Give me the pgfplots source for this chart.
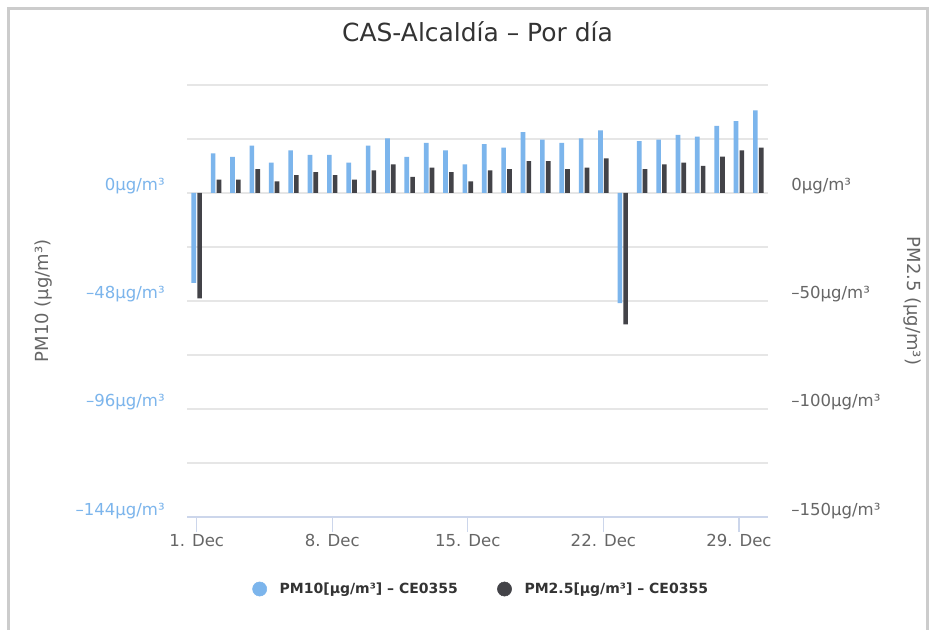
\documentclass[border=0pt]{standalone}
\usepackage{fontspec}
\setmainfont{DejaVu Sans}
\usepackage{pgfplots}
\usepackage{pgfplotstable}
\pgfplotsset{compat=1.18}

\definecolor{pm10}{HTML}{7CB5EC}
\definecolor{pm25}{HTML}{434348}
\definecolor{gridc}{HTML}{E6E6E6}
\definecolor{axisc}{HTML}{CCD6EB}
\definecolor{txt}{HTML}{666666}
\definecolor{ttl}{HTML}{333333}
\definecolor{marco}{HTML}{CCCCCC}

% daily values, December
\pgfplotstableread{
day pm10 pm25
1  -40.0 -48.8
2  17.6  6.2
3  16.1  6.2
4  21.0  11.0
5  13.5  5.4
6  18.9  8.3
7  16.9  9.7
8  16.9  8.3
9  13.5  6.2
10 21.0  10.5
11 24.3  13.2
12 16.1  7.5
13 22.3  11.8
14 18.9  9.7
15 12.7  5.4
16 21.7  10.5
17 20.2  11.0
18 27.1  14.7
19 23.7  14.7
20 22.3  11.0
21 24.3  11.8
22 27.8  16.0
23 -49.0 -60.8
24 23.0  11.0
25 23.7  13.2
26 25.8  14.1
27 25.0  12.5
28 29.8  16.8
29 31.9  19.7
30 36.7  21.0
}\datos

\newcommand{\tickfont}{\fontsize{12.4}{15}\selectfont}
\newcommand{\labfont}{\fontsize{13.5}{16}\selectfont}

\begin{document}
\begin{tikzpicture}
\useasboundingbox (0,0) rectangle (701.25pt,-472.5pt);
\fill[white] (0,0) rectangle (701.25pt,-472.5pt);
\draw[marco, line width=2.25pt] (6.4pt,-472.5pt) -- (6.4pt,-6.75pt) -- (695.25pt,-6.75pt) -- (695.25pt,-472.5pt);

% left axis: PM10
\begin{axis}[
    scale only axis, width=435.75pt, height=324pt,
    at={(140.25pt,-387.75pt)}, anchor=south west,
    xmin=0.5, xmax=30.5, ymin=-144, ymax=48,
    ybar, bar width=3.48pt,
    axis x line*=bottom, axis y line*=left,
    y axis line style={draw=none},
    x axis line style={axisc, line width=1pt},
    tick align=outside, major tick length=11.25pt,
    xtick={1,8,15,22,29},
    xticklabels={1. Dec,8. Dec,15. Dec,22. Dec,29. Dec},
    xtick style={axisc, line width=1pt},
    xticklabel style={anchor=base, inner sep=0pt, yshift=-10.5pt, txt, font=\tickfont},
    ytick={-144,-120,...,48},
    yticklabels={–144μg/m³,,–96μg/m³,,–48μg/m³,,0μg/m³,,},
    ytick style={draw=none},
    yticklabel style={anchor=base east, inner sep=0pt, xshift=-5.25pt, yshift=1.5pt, pm10, font=\tickfont},
    ymajorgrids, grid style={gridc, line width=1pt},
    ylabel={PM10 (μg/m³)},
    ylabel style={at={(axis description cs:-0.2470,0.5)}, anchor=center, txt, font=\labfont},
    title={CAS-Alcaldía – Por día},
    title style={at={(axis description cs:0.5,1)}, anchor=base, yshift=26.25pt, ttl, font=\fontsize{18.7}{22}\selectfont},
]
\addplot[fill=pm10, draw=none, bar shift=-2.18pt] table[x=day, y=pm10] {\datos};
\end{axis}

% right axis: PM2.5
\begin{axis}[
    scale only axis, width=435.75pt, height=324pt,
    at={(140.25pt,-387.75pt)}, anchor=south west,
    xmin=0.5, xmax=30.5, ymin=-150, ymax=50,
    ybar, bar width=3.48pt,
    axis x line=none, axis y line*=right,
    y axis line style={draw=none},
    ytick={-150,-100,-50,0},
    yticklabels={–150μg/m³,–100μg/m³,–50μg/m³,0μg/m³},
    ytick style={draw=none},
    yticklabel style={anchor=base west, inner sep=0pt, xshift=17.25pt, yshift=1.5pt, txt, font=\tickfont},
    ylabel={PM2.5 (μg/m³)},
    ylabel style={at={(axis description cs:1.2478,0.5)}, anchor=center, rotate=180, txt, font=\labfont},
    legend style={at={(axis description cs:0.5069,-0.1667)}, anchor=center,
        draw=none, fill=none, legend columns=2, text=ttl,
        font=\bfseries\fontsize{10.5}{13}\selectfont,
        /tikz/every odd column/.append style={column sep=7.5pt},
        /tikz/every even column/.append style={column sep=27.5pt}},
    legend cell align=left,
]
\addlegendimage{legend image code/.code={\fill[pm10] (0pt,0pt) circle (5.3pt);}}
\addlegendentry{PM10[μg/m³] – CE0355}
\addlegendimage{legend image code/.code={\fill[pm25] (0pt,0pt) circle (5.3pt);}}
\addlegendentry{PM2.5[μg/m³] – CE0355}
\addplot[fill=pm25, draw=none, bar shift=2.18pt, forget plot] table[x=day, y=pm25] {\datos};
\end{axis}
\end{tikzpicture}
\end{document}
